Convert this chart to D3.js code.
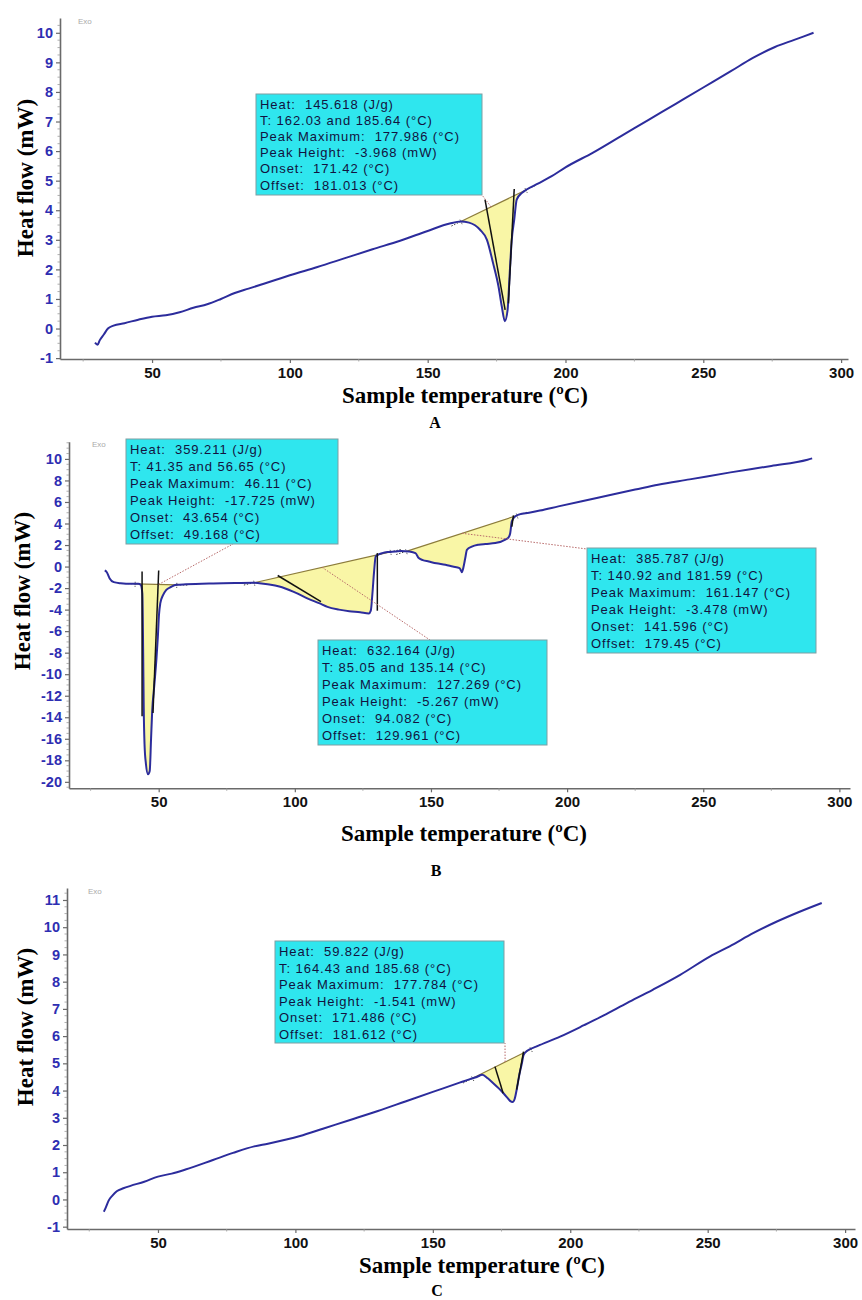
<!DOCTYPE html>
<html>
<head>
<meta charset="utf-8">
<script src="https://cdn.jsdelivr.net/npm/d3@7"></script>
<style>
  body { margin: 0; background: #fff; }
  svg { display: block; }
</style>
</head>
<body>
<svg id="fig" width="862" height="1300"></svg>
<script>
// ---------------- DSC thermograms: sample temperature (°C) vs heat flow (mW) ----------------

// Curve A
const tempA = [29.3, 30.2, 31, 32.5, 34, 36, 40, 45, 50, 55, 60, 65, 70, 75, 80, 85, 90, 95, 100, 110, 120, 130, 140, 150, 158,
  162, 165, 169, 171.5, 173.7, 175.7, 176.9, 178, 179, 179.7, 180.5, 181.4, 182.3, 184.1, 185.9, 190, 195, 200, 210, 220,
  230, 240, 250, 260, 268, 276, 283, 290];
const heatA = [-0.48, -0.55, -0.4, -0.2, 0.0, 0.1, 0.18, 0.3, 0.4, 0.45, 0.55, 0.7, 0.82, 1.0, 1.2, 1.35, 1.5, 1.65, 1.8, 2.08, 2.38, 2.68, 2.97, 3.3, 3.55,
  3.62, 3.58, 3.34, 3.0, 2.22, 1.42, 0.74, 0.25, 0.63, 1.76, 3.0, 3.68, 4.36, 4.58, 4.7, 4.9, 5.15, 5.45, 5.95, 6.5,
  7.05, 7.6, 8.15, 8.7, 9.15, 9.52, 9.76, 10.0];

// Curve B
const tempB = [30.2, 31, 32, 33.5, 36, 40, 42.5, 43.4, 44.0, 44.3, 44.5, 44.8, 45.3, 46.1, 46.7, 47.2, 47.6, 48.4, 49.2, 49.7, 50.1, 50.6,
  51.5, 52.8, 54.5, 56.5, 60, 70, 78, 85, 87, 90, 94.3, 100, 105, 108.9, 112, 116.2, 120, 124, 127.2, 127.9, 128.5, 129.1, 129.7,
  131, 132.1, 134, 137, 139, 141.9, 144.3, 145.5, 147, 149.2, 152, 155.3, 158, 160.5, 161.4, 161.7, 162.6, 163.2, 165, 167.5,
  170, 173.6, 177.3, 178.6, 179.1, 179.7, 180.9, 182.5, 186, 190, 196.8, 205, 215, 225, 233.4, 245, 260, 275, 288.3, 290];
const heatB = [-0.36, -0.55, -1.1, -1.45, -1.55, -1.6, -1.6, -1.7, -2.5, -8, -13, -16.5, -18.3, -19.3, -19.0, -16, -13.5, -11, -8.5, -6.5, -4.5, -3.4,
  -2.7, -2.16, -1.9, -1.7, -1.65, -1.57, -1.53, -1.5, -1.55, -1.65, -1.85, -2.4, -3.0, -3.4, -3.75, -4.0, -4.15, -4.25, -4.36, -4.1, -2.5, -0.5, 0.94,
  1.15, 1.25, 1.35, 1.4, 1.45, 1.4, 1.25, 0.79, 0.6, 0.47, 0.3, 0.17, 0.0, -0.14, -0.52, -0.3, 0.79, 1.56, 1.85, 2.03,
  2.1, 2.18, 2.5, 2.75, 3.1, 4.2, 4.66, 4.85, 5.0, 5.2, 5.59, 6.05, 6.6, 7.15, 7.61, 8.1, 8.75, 9.35, 9.93, 10.05];

// Curve C
const tempC = [30.3, 31, 32, 33.5, 35, 37.4, 40, 45, 50, 55, 60, 70, 77.3, 85, 90, 101.7, 110, 119.9, 130, 140, 150, 160, 163.5, 166, 168,
  170, 172, 174, 175.7, 177, 178.1, 179, 179.8, 180.5, 181.5, 182.4, 183, 184.2, 187.8, 196.3, 205, 212, 220.6, 230, 240,
  250.9, 258, 266.7, 275, 283, 291.5];
const heatC = [-0.45, -0.3, -0.05, 0.15, 0.3, 0.41, 0.5, 0.65, 0.84, 0.95, 1.1, 1.45, 1.71, 1.95, 2.05, 2.33, 2.6, 2.92, 3.25, 3.6, 3.95, 4.3, 4.42, 4.5, 4.58,
  4.45, 4.27, 4.08, 3.9, 3.75, 3.62, 3.58, 3.7, 4.03, 4.6, 5.0, 5.3, 5.45, 5.62, 5.98, 6.4, 6.75, 7.21, 7.7, 8.25,
  8.93, 9.3, 9.79, 10.2, 10.55, 10.89];

// Axis ticks
const tempTicks = [50, 100, 150, 200, 250, 300];
const heatTicksA = [-1, 0, 1, 2, 3, 4, 5, 6, 7, 8, 9, 10];
const heatTicksB = [-20, -18, -16, -14, -12, -10, -8, -6, -4, -2, 0, 2, 4, 6, 8, 10];
const heatTicksC = [-1, 0, 1, 2, 3, 4, 5, 6, 7, 8, 9, 10, 11];

// Integration limits (°C) of each endotherm
const peaksA = [[162.03, 185.64]];
const peaksB = [[41.35, 56.65], [85.05, 135.14], [140.92, 181.59]];
const peaksC = [[164.43, 185.68]];

// Onset / offset tangent construction lines, [[T, mW], [T, mW]]
const tangentsA = [[[170.8, 4.36], [178.1, 0.63]], [[181.4, 4.72], [179.3, 0.85]]];
const tangentsB = [[[43.9, -0.45], [43.9, -13.9]], [[50.0, -0.36], [47.9, -13.6]],
                   [[93.7, -0.83], [109.6, -3.25]], [[130.3, 1.25], [130.3, -4.1]],
                   [[180.3, 4.75], [179.7, 3.7]]];
const tangentsC = [[[172.6, 4.88], [175.6, 3.9]], [[183.0, 5.43], [180.5, 4.03]]];

// Temperature on each baseline where the callout leader starts
const leaderTempA = [173];
const leaderTempB = [50, 110, 161.4];
const leaderTempC = [176.3];

// Peak analysis results
const resultsA = [[
  "Heat:  145.618 (J/g)", "T: 162.03 and 185.64 (°C)", "Peak Maximum:  177.986 (°C)",
  "Peak Height:  -3.968 (mW)", "Onset:  171.42 (°C)", "Offset:  181.013 (°C)"]];
const resultsB = [[
  "Heat:  359.211 (J/g)", "T: 41.35 and 56.65 (°C)", "Peak Maximum:  46.11 (°C)",
  "Peak Height:  -17.725 (mW)", "Onset:  43.654 (°C)", "Offset:  49.168 (°C)"], [
  "Heat:  632.164 (J/g)", "T: 85.05 and 135.14 (°C)", "Peak Maximum:  127.269 (°C)",
  "Peak Height:  -5.267 (mW)", "Onset:  94.082 (°C)", "Offset:  129.961 (°C)"], [
  "Heat:  385.787 (J/g)", "T: 140.92 and 181.59 (°C)", "Peak Maximum:  161.147 (°C)",
  "Peak Height:  -3.478 (mW)", "Onset:  141.596 (°C)", "Offset:  179.45 (°C)"]];
const resultsC = [[
  "Heat:  59.822 (J/g)", "T: 164.43 and 185.68 (°C)", "Peak Maximum:  177.784 (°C)",
  "Peak Height:  -1.541 (mW)", "Onset:  171.486 (°C)", "Offset:  181.612 (°C)"]];

// ---------------- layout ----------------
const panels = [
  { name: "A", temp: tempA, heat: heatA, peaks: peaksA, tangents: tangentsA, leaders: leaderTempA, results: resultsA,
    yTicks: heatTicksA, minorStep: 0.25,
    xRange: [60, 848], xDomain: [16.6, 302.5], yRange: [359, 18], yDomain: [-1.03, 10.5],
    exo: [78, 24], yTitle: [25, 178], xTitle: [465, 403], letter: [435, 428],
    boxes: [{ x: 256, y: 94, w: 226, h: 101, lead: [482, 195] }], lineGap: 16.1 },
  { name: "B", temp: tempB, heat: heatB, peaks: peaksB, tangents: tangentsB, leaders: leaderTempB, results: resultsB,
    yTicks: heatTicksB, minorStep: 0.5,
    xRange: [69, 850], xDomain: [17.06, 303.9], yRange: [788.3, 441.7], yDomain: [-20.6, 11.6],
    exo: [92, 447], yTitle: [22, 591], xTitle: [464, 841], letter: [436, 876],
    boxes: [{ x: 126, y: 439, w: 212, h: 105, lead: [233, 544] },
            { x: 318, y: 640, w: 229, h: 105, lead: [430, 640] },
            { x: 587, y: 548, w: 229, h: 105, lead: [587, 549] }], lineGap: 17 },
  { name: "C", temp: tempC, heat: heatC, peaks: peaksC, tangents: tangentsC, leaders: leaderTempC, results: resultsC,
    yTicks: heatTicksC, minorStep: 0.25,
    xRange: [67, 855], xDomain: [16.9, 303.6], yRange: [1229, 888], yDomain: [-1.085, 11.44],
    exo: [88, 894], yTitle: [25, 1027], xTitle: [482, 1273], letter: [437, 1296],
    boxes: [{ x: 275, y: 941, w: 229, h: 102, lead: [505, 1043] }], lineGap: 16.5 }
];

const svg = d3.select("#fig");
const serif = "'Liberation Serif','Times New Roman',serif";
const sans = "'Liberation Sans',Arial,sans-serif";
const curveColor = "#2c2c9c";
const axisColor = "#6a6a6a";

panels.forEach(p => {
  const g = svg.append("g").attr("class", "panel-" + p.name);
  const x = d3.scaleLinear().domain(p.xDomain).range(p.xRange);
  const y = d3.scaleLinear().domain(p.yDomain).range(p.yRange);
  const pts = p.temp.map((t, i) => [t, p.heat[i]]);

  // heat flow at any temperature (linear between samples)
  const at = t => {
    const i = d3.bisectLeft(p.temp, t);
    if (i <= 0) return p.heat[0];
    if (i >= p.temp.length) return p.heat[p.heat.length - 1];
    const t0 = p.temp[i - 1], t1 = p.temp[i];
    return p.heat[i - 1] + (p.heat[i] - p.heat[i - 1]) * (t - t0) / (t1 - t0);
  };

  // ---- axes ----
  const yAxis = d3.axisLeft(y).tickValues(p.yTicks).tickSize(4).tickSizeOuter(0).tickPadding(3)
    .tickFormat(d => String(d));
  const ya = g.append("g").attr("transform", `translate(${p.xRange[0]},0)`).call(yAxis);
  ya.select(".domain").attr("stroke", axisColor).attr("stroke-width", 1.6);
  ya.selectAll(".tick line").attr("stroke", axisColor).attr("stroke-width", 1.2);
  ya.selectAll(".tick text").attr("fill", "#2e2eb2").attr("font-family", sans)
    .attr("font-weight", "bold").attr("font-size", 14.5);

  const minor = d3.range(Math.ceil(p.yDomain[0] / p.minorStep) * p.minorStep, p.yDomain[1], p.minorStep)
    .filter(v => !p.yTicks.some(t => Math.abs(t - v) < 1e-6));
  g.append("g").selectAll("line").data(minor).join("line")
    .attr("x1", p.xRange[0] - 2.5).attr("x2", p.xRange[0])
    .attr("y1", d => y(d)).attr("y2", d => y(d))
    .attr("stroke", "#9a9a9a").attr("stroke-width", 0.8);

  const xAxis = d3.axisBottom(x).tickValues(tempTicks).tickSize(4).tickSizeOuter(0).tickPadding(4);
  const xa = g.append("g").attr("transform", `translate(0,${p.yRange[0]})`).call(xAxis);
  xa.select(".domain").attr("stroke", axisColor).attr("stroke-width", 1.6);
  xa.selectAll(".tick line").attr("stroke", axisColor).attr("stroke-width", 1.2);
  xa.selectAll(".tick text").attr("fill", "#111").attr("font-family", sans)
    .attr("font-weight", "bold").attr("font-size", 15);
  g.append("g").selectAll("line").data([25, 75, 125, 175, 225, 275]).join("line")
    .attr("x1", d => x(d)).attr("x2", d => x(d))
    .attr("y1", p.yRange[0]).attr("y2", p.yRange[0] + 2.5)
    .attr("stroke", "#9a9a9a").attr("stroke-width", 0.8);

  // ---- titles ----
  g.append("text").attr("transform", `translate(${p.yTitle[0]},${p.yTitle[1]}) rotate(-90)`)
    .attr("text-anchor", "middle").attr("dominant-baseline", "central")
    .attr("font-family", serif).attr("font-weight", "bold").attr("font-size", 23).attr("fill", "#000")
    .text("Heat flow (mW)");
  g.append("text").attr("x", p.xTitle[0]).attr("y", p.xTitle[1]).attr("text-anchor", "middle")
    .attr("font-family", serif).attr("font-weight", "bold").attr("font-size", 23).attr("fill", "#000")
    .text("Sample temperature (ºC)");
  g.append("text").attr("x", p.letter[0]).attr("y", p.letter[1]).attr("text-anchor", "middle")
    .attr("font-family", serif).attr("font-weight", "bold").attr("font-size", 16).attr("fill", "#000")
    .text(p.name);
  g.append("text").attr("x", p.exo[0]).attr("y", p.exo[1])
    .attr("font-family", sans).attr("font-size", 8).attr("fill", "#aaa").text("Exo");

  // ---- integrated peak areas ----
  p.peaks.forEach(([t1, t2]) => {
    const b1 = at(t1), b2 = at(t2);
    const base = t => b1 + (b2 - b1) * (t - t1) / (t2 - t1);
    const ts = [t1, ...p.temp.filter(t => t > t1 && t < t2), t2];
    g.append("path").datum(ts)
      .attr("d", d3.area().curve(d3.curveMonotoneX).x(t => x(t)).y0(t => y(base(t))).y1(t => y(at(t))))
      .attr("fill", "#f9f6a6").attr("stroke", "none");
    g.append("line").attr("x1", x(t1)).attr("y1", y(b1)).attr("x2", x(t2)).attr("y2", y(b2))
      .attr("stroke", "#8c7c3c").attr("stroke-width", 1.2);
    // dotted baseline extensions
    const dx = x(t2) - x(t1), dy = y(b2) - y(b1), L = Math.hypot(dx, dy), ux = dx / L, uy = dy / L;
    [[x(t1), y(b1), -1], [x(t2), y(b2), 1]].forEach(([px, py, s]) => {
      g.append("line").attr("x1", px).attr("y1", py).attr("x2", px + s * 11 * ux).attr("y2", py + s * 11 * uy)
        .attr("stroke", "#444").attr("stroke-width", 1).attr("stroke-dasharray", "1.5,1.5");
      g.append("line").attr("x1", px - 3 * uy).attr("y1", py + 3 * ux).attr("x2", px + 3 * uy).attr("y2", py - 3 * ux)
        .attr("stroke", "#444").attr("stroke-width", 1).attr("stroke-dasharray", "1,1");
    });
  });

  // ---- heat-flow curve ----
  g.append("path").datum(pts)
    .attr("d", d3.line().curve(d3.curveMonotoneX).x(d => x(d[0])).y(d => y(d[1])))
    .attr("fill", "none").attr("stroke", curveColor).attr("stroke-width", 2)
    .attr("stroke-linejoin", "round");

  // ---- tangent construction lines ----
  p.tangents.forEach(seg => {
    g.append("line").attr("x1", x(seg[0][0])).attr("y1", y(seg[0][1]))
      .attr("x2", x(seg[1][0])).attr("y2", y(seg[1][1]))
      .attr("stroke", "#111").attr("stroke-width", 1.5);
  });

  // ---- callouts ----
  p.boxes.forEach((b, i) => {
    const [t1, t2] = p.peaks[i];
    const b1 = at(t1), b2 = at(t2);
    const lt = p.leaders[i];
    const lv = b1 + (b2 - b1) * (lt - t1) / (t2 - t1);
    g.append("line").attr("x1", x(lt)).attr("y1", y(lv)).attr("x2", b.lead[0]).attr("y2", b.lead[1])
      .attr("stroke", "#b86a6a").attr("stroke-width", 1).attr("stroke-dasharray", "1.5,1.5");
    g.append("rect").attr("x", b.x).attr("y", b.y).attr("width", b.w).attr("height", b.h)
      .attr("fill", "#2fe6ee").attr("stroke", "#7f9ea2").attr("stroke-width", 1);
    g.append("g").selectAll("text").data(p.results[i]).join("text")
      .attr("x", b.x + 4).attr("y", (d, k) => b.y + 15 + k * p.lineGap)
      .attr("font-family", sans).attr("font-size", 13).attr("letter-spacing", 0.95)
      .attr("fill", "#121240").style("white-space", "pre").text(d => d);
  });
});
</script>
</body>
</html>
